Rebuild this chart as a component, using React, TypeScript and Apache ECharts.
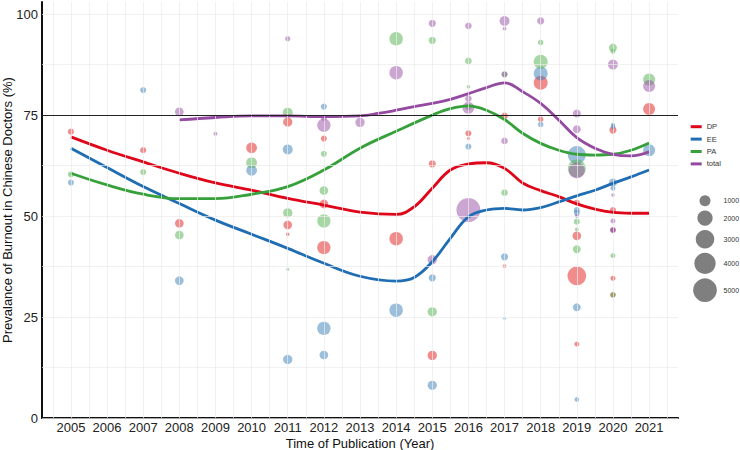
import React, { useEffect, useRef } from "react";
import * as echarts from "echarts";

// [year, prevalence %, sample size]
const DP_POINTS: number[][] = [
  [2005, 70.9, 270], [2007, 66.3, 270], [2008, 48.2, 600], [2010, 66.9, 950],
  [2011, 73.3, 700], [2011, 47.8, 600], [2011, 45.5, 75], [2012, 69.2, 270],
  [2012, 53.0, 600], [2012, 42.2, 1500], [2014, 44.4, 1550], [2015, 62.9, 400],
  [2015, 15.5, 700], [2016, 70.5, 270], [2016, 69.2, 50], [2017, 74.8, 340],
  [2017, 37.6, 75], [2018, 83.0, 1680], [2018, 74.0, 220], [2019, 53.3, 270],
  [2019, 45.1, 600], [2019, 35.2, 3060], [2019, 18.3, 175], [2020, 71.3, 400],
  [2020, 51.5, 270], [2020, 46.6, 220], [2020, 34.6, 175], [2020, 30.5, 220],
  [2021, 76.5, 1200],
];
const EE_POINTS: number[][] = [
  [2005, 58.3, 270], [2007, 81.2, 270], [2008, 34.0, 600], [2010, 61.3, 950],
  [2011, 66.5, 820], [2011, 14.5, 700], [2012, 77.1, 270], [2012, 22.2, 1500],
  [2012, 15.6, 600], [2014, 26.7, 1550], [2015, 34.7, 400], [2015, 8.1, 700],
  [2016, 67.2, 270], [2017, 39.9, 400], [2017, 24.7, 50], [2018, 85.3, 1680],
  [2018, 72.7, 220], [2019, 65.1, 2830], [2019, 51.5, 270], [2019, 50.8, 270],
  [2019, 27.4, 500], [2019, 4.6, 140], [2020, 72.6, 100], [2020, 72.1, 175],
  [2020, 58.3, 500], [2020, 56.9, 175], [2020, 46.5, 100], [2021, 66.3, 1200],
];
const PA_POINTS: number[][] = [
  [2005, 60.3, 270], [2007, 60.9, 270], [2008, 45.3, 600], [2010, 63.2, 950],
  [2011, 75.6, 820], [2011, 50.8, 700], [2011, 36.8, 50], [2012, 65.4, 270],
  [2012, 56.3, 600], [2012, 48.8, 1500], [2014, 93.9, 1550], [2015, 93.5, 400],
  [2015, 26.3, 700], [2016, 88.4, 340], [2016, 82.0, 75], [2016, 77.0, 300],
  [2017, 85.1, 270], [2017, 55.8, 340], [2018, 93.0, 220], [2018, 88.2, 1680],
  [2019, 61.8, 2830], [2019, 48.6, 270], [2019, 46.7, 100], [2019, 41.8, 500],
  [2020, 91.7, 500], [2020, 90.8, 175], [2020, 40.2, 175], [2020, 30.5, 220],
  [2021, 83.8, 1200],
];
const TOTAL_POINTS: number[][] = [
  [2008, 75.8, 600], [2009, 70.4, 100], [2011, 93.9, 200], [2012, 74.3, 270],
  [2012, 72.5, 1500], [2013, 73.2, 700], [2014, 85.5, 1550], [2015, 97.7, 400],
  [2015, 39.2, 700], [2016, 97.1, 340], [2016, 79.1, 340], [2016, 76.8, 1200],
  [2016, 51.5, 5140], [2017, 98.3, 820], [2017, 96.4, 100], [2017, 85.1, 270],
  [2017, 68.6, 340], [2018, 98.3, 400], [2019, 75.4, 500], [2019, 71.5, 500],
  [2019, 61.3, 2200], [2019, 50.0, 100], [2020, 87.5, 820], [2020, 55.2, 75],
  [2020, 48.8, 175], [2020, 46.5, 270], [2021, 82.2, 1200],
];

// smoothed trend curves [year, value]
const DP_FIT: number[][] = [
  [2005, 69.6], [2006, 66.3], [2007, 63.4], [2008, 60.6], [2009, 58.2], [2010, 56.4],
  [2011, 54.4], [2012, 52.7], [2013, 51.0], [2014, 50.4], [2014.5, 52.3], [2015, 56.9],
  [2015.5, 61.4], [2016, 62.9], [2016.5, 63.2], [2017, 61.8], [2017.5, 58.2], [2018, 56.3],
  [2018.5, 54.8], [2019, 53.0], [2019.5, 51.7], [2020, 50.9], [2020.5, 50.7], [2021, 50.7],
];
const EE_FIT: number[][] = [
  [2005, 66.8], [2006, 62.0], [2007, 57.3], [2008, 53.1], [2009, 49.0], [2010, 45.5],
  [2011, 42.0], [2012, 38.3], [2013, 35.1], [2014, 33.9], [2014.5, 34.8], [2015, 38.7],
  [2015.5, 44.5], [2016, 49.8], [2016.5, 51.5], [2017, 51.9], [2017.5, 51.5], [2018, 52.1],
  [2018.5, 53.5], [2019, 55.0], [2019.5, 56.4], [2020, 58.1], [2020.5, 59.7], [2021, 61.4],
];
const PA_FIT: number[][] = [
  [2005, 60.6], [2006, 57.7], [2007, 55.4], [2008, 54.3], [2009, 54.3], [2010, 55.4],
  [2011, 57.3], [2012, 61.4], [2013, 66.8], [2014, 71.0], [2015, 75.0], [2015.5, 76.6],
  [2016, 77.3], [2016.5, 76.2], [2017, 73.9], [2017.5, 70.5], [2018, 68.0], [2018.5, 66.3],
  [2019, 65.3], [2019.5, 65.1], [2020, 65.3], [2020.5, 66.3], [2021, 68.1],
];
const TOTAL_FIT: number[][] = [
  [2008, 73.8], [2009, 74.4], [2010, 74.8], [2011, 74.8], [2012, 74.6], [2013, 74.8],
  [2013.5, 75.4], [2014, 76.2], [2014.5, 77.1], [2015, 77.9], [2015.5, 78.9], [2016, 80.3],
  [2016.5, 81.8], [2017, 83.0], [2017.5, 80.8], [2018, 77.9], [2018.5, 73.8], [2019, 69.4],
  [2019.5, 66.8], [2020, 65.3], [2020.5, 64.9], [2021, 65.9],
];

const YEARS: number[] = [2005, 2006, 2007, 2008, 2009, 2010, 2011, 2012, 2013, 2014, 2015, 2016, 2017, 2018, 2019, 2020, 2021];
const Y_TICKS: number[] = [0, 25, 50, 75, 100];
const Y_MINOR: number[] = [12.5, 37.5, 62.5, 87.5];
const REFERENCE_LINE = 75;
const SIZE_BREAKS: number[] = [1000, 2000, 3000, 4000, 5000];
const SERIES_NAMES: string[] = ["DP", "EE", "PA", "total"];

const POINT_COLORS = ["#E41A1C", "#377EB8", "#4DAF4A", "#984EA3"];
const LINE_COLORS = ["#E0061A", "#1F6DB2", "#36A13B", "#944AA0"];

const FONT = "Liberation Sans, Arial, sans-serif";
const sizeOf = (n: number) => 0.7 + 0.325 * Math.sqrt(n);

export default function App() {
  const ref = useRef<HTMLDivElement>(null);

  useEffect(() => {
    document.body.style.margin = "0";
    if (!ref.current) return;
    const chart = echarts.init(ref.current, undefined, { renderer: "svg" });

    const gridX: number[] = [];
    YEARS.forEach((y) => { gridX.push(y - 0.5); gridX.push(y); });
    gridX.push(YEARS[YEARS.length - 1] + 0.5);
    const gridY = [...Y_TICKS, ...Y_MINOR];

    const pointSets = [DP_POINTS, EE_POINTS, PA_POINTS, TOTAL_POINTS];
    const fitSets = [DP_FIT, EE_FIT, PA_FIT, TOTAL_FIT];

    const series: any[] = [
      {
        type: "scatter",
        name: "grid",
        data: [],
        silent: true,
        z: 0,
        markLine: {
          silent: true,
          symbol: ["none", "none"],
          label: { show: false },
          animation: false,
          lineStyle: { color: "#EBEBEB", width: 0.7, type: "solid" },
          data: [
            ...gridX.map((v) => ({ xAxis: v })),
            ...gridY.map((v) => ({ yAxis: v })),
          ],
        },
      },
    ];

    pointSets.forEach((pts, i) => {
      series.push({
        type: "scatter",
        name: SERIES_NAMES[i] + " studies",
        data: pts,
        symbol: "circle",
        symbolSize: (val: number[]) => sizeOf(val[2]),
        itemStyle: { color: POINT_COLORS[i], opacity: 0.5 },
        z: 2,
      });
    });

    fitSets.forEach((fit, i) => {
      series.push({
        type: "line",
        name: SERIES_NAMES[i],
        data: fit,
        smooth: 0.4,
        showSymbol: false,
        symbol: "none",
        lineStyle: { color: LINE_COLORS[i], width: 2.8 },
        itemStyle: { color: LINE_COLORS[i] },
        z: 4,
      });
    });

    series.push({
      type: "scatter",
      name: "ref",
      data: [],
      silent: true,
      z: 3,
      markLine: {
        silent: true,
        symbol: ["none", "none"],
        label: { show: false },
        animation: false,
        lineStyle: { color: "#222222", width: 1, type: "solid" },
        data: [{ yAxis: REFERENCE_LINE }],
      },
    });

    // size legend
    const graphics: any[] = [];
    let yCursor = 193;
    SIZE_BREAKS.forEach((b) => {
      const d = sizeOf(b);
      const h = d + 4.3;
      const cy = yCursor + h / 2;
      graphics.push({
        type: "circle",
        shape: { cx: 705, cy, r: d / 2 },
        style: { fill: "#7F7F7F" },
        silent: true,
      });
      graphics.push({
        type: "text",
        x: 723.5,
        y: cy,
        style: {
          text: String(b),
          fill: "#333333",
          fontSize: 7,
          fontFamily: FONT,
          verticalAlign: "middle",
          align: "left",
        },
        silent: true,
      });
      yCursor += h;
    });

    chart.setOption({
      animation: false,
      grid: { left: 42, right: 62, top: 2, bottom: 32, containLabel: false, outerBoundsMode: "none" },
      legend: {
        data: SERIES_NAMES,
        orient: "vertical",
        left: 690.7,
        top: 120.7,
        icon: "rect",
        itemWidth: 11,
        itemHeight: 3,
        itemGap: 0.4,
        selectedMode: false,
        textStyle: {
          fontSize: 7.5,
          lineHeight: 12,
          color: "#333333",
          fontFamily: FONT,
          padding: [0, 0, 0, 0],
        },
        padding: 0,
      },
      xAxis: {
        type: "value",
        min: 2004.2,
        max: 2021.8,
        name: "Time of Publication (Year)",
        nameLocation: "middle",
        nameGap: 18.5,
        nameMoveOverlap: false,
        nameTextStyle: { fontSize: 13, color: "#111111", fontFamily: FONT },
        axisLine: { show: true, lineStyle: { color: "#111111", width: 2 } },
        axisTick: { show: false, customValues: YEARS },
        splitLine: { show: false },
        axisLabel: {
          customValues: YEARS,
          fontSize: 13,
          color: "#222222",
          margin: 3,
          fontFamily: FONT,
          formatter: (v: number) => String(v),
        },
      },
      yAxis: {
        type: "value",
        min: 0,
        max: 103,
        interval: 25,
        name: "Prevalance of Burnout in Chinese Doctors (%)",
        nameLocation: "middle",
        nameGap: 28,
        nameMoveOverlap: false,
        nameRotate: 90,
        nameTextStyle: { fontSize: 13, color: "#111111", fontFamily: FONT },
        axisLine: { show: true, lineStyle: { color: "#111111", width: 2 } },
        axisTick: { show: false },
        splitLine: { show: false },
        axisLabel: {
          fontSize: 13,
          color: "#222222",
          margin: 4,
          fontFamily: FONT,
          formatter: (v: number) => (Y_TICKS.indexOf(v) >= 0 ? String(v) : ""),
        },
      },
      graphic: graphics,
      series,
    });

    return () => chart.dispose();
  }, []);

  return <div ref={ref} style={{ width: 740, height: 450 }} />;
}
